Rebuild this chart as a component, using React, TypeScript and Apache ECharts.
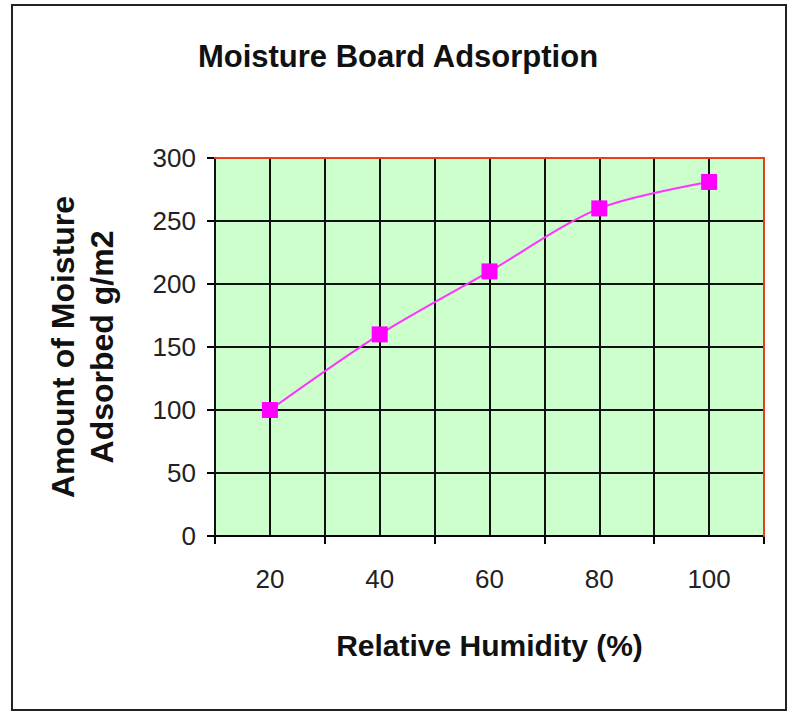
import React, { useEffect, useRef } from "react";
import * as echarts from "echarts";

const categories = ["20", "40", "60", "80", "100"];
const moistureAdsorbed = [100, 160, 210, 260, 281];
const yMin = 0;
const yMax = 300;
const yStep = 50;
const titleText = "Moisture Board Adsorption";
const xName = "Relative Humidity (%)";
const yName = "Amount of Moisture\nAdsorbed g/m2";

const FONT = "'Liberation Sans', Arial, Helvetica, sans-serif";

export default function App() {
  const ref = useRef<HTMLDivElement>(null);
  useEffect(() => {
    if (!ref.current) return;
    const chart = echarts.init(ref.current, null, { renderer: "svg" });
    const gridLine = { color: "#111", width: 2 };
    const red = "#e8401c";
    chart.setOption({
      animation: false,
      backgroundColor: "#ffffff",
      textStyle: { fontFamily: FONT },
      title: {
        text: titleText,
        left: "center",
        top: 36,
        textStyle: { fontSize: 31, fontWeight: "bold", color: "#111", fontFamily: FONT },
      },
      grid: {
        left: 215,
        top: 158,
        right: 32,
        bottom: 177,
        show: true,
        backgroundColor: "#ccffcc",
        borderWidth: 0,
      },
      xAxis: [
        {
          type: "category",
          data: categories,
          boundaryGap: true,
          position: "bottom",
          axisLine: { show: true, lineStyle: { color: "#000", width: 2 } },
          axisTick: { show: true, length: 8, lineStyle: { color: "#000", width: 2 } },
          axisLabel: { fontSize: 26, margin: 30, color: "#222", fontFamily: FONT },
          splitLine: { show: false },
          name: xName,
          nameLocation: "middle",
          nameGap: 94,
          nameTextStyle: { fontSize: 30, fontWeight: "bold", color: "#111", fontFamily: FONT },
        },
        {
          type: "value",
          position: "top",
          min: 0,
          max: 10,
          interval: 1,
          z: 5,
          axisLine: { show: true, onZero: false, lineStyle: { color: red, width: 2 } },
          axisTick: { show: false },
          axisLabel: { show: false },
          splitLine: { show: true, lineStyle: gridLine },
        },
      ],
      yAxis: [
        {
          type: "value",
          min: yMin,
          max: yMax,
          interval: yStep,
          position: "left",
          axisLine: { show: true, lineStyle: { color: "#000", width: 2 } },
          axisTick: { show: true, length: 8, lineStyle: { color: "#000", width: 2 } },
          axisLabel: { fontSize: 26, margin: 19, color: "#222", fontFamily: FONT },
          splitLine: { show: true, showMaxLine: false, lineStyle: gridLine },
          name: yName,
          nameLocation: "middle",
          nameGap: 94,
          nameTextStyle: {
            fontSize: 32,
            fontWeight: "bold",
            lineHeight: 39,
            color: "#111",
            fontFamily: FONT,
          },
        },
        {
          type: "value",
          position: "right",
          min: 0,
          max: 1,
          z: 6,
          axisLine: { show: true, onZero: false, lineStyle: { color: red, width: 2 } },
          axisTick: { show: false },
          axisLabel: { show: false },
          splitLine: { show: false },
        },
      ],
      series: [
        {
          type: "line",
          data: moistureAdsorbed,
          xAxisIndex: 0,
          yAxisIndex: 0,
          smooth: 0.3,
          symbol: "rect",
          symbolSize: 16,
          z: 20,
          itemStyle: { color: "#ff00ff" },
          lineStyle: { color: "#ff33ff", width: 2 },
        },
      ],
      graphic: [
        {
          type: "rect",
          silent: true,
          shape: { x: 12, y: 5, width: 774, height: 705 },
          style: { fill: "none", stroke: "#222", lineWidth: 2 },
        },
      ],
    });
    return () => chart.dispose();
  }, []);
  return (
    <div
      ref={ref}
      style={{ position: "fixed", left: 0, top: 0, width: 796, height: 713 }}
    />
  );
}
